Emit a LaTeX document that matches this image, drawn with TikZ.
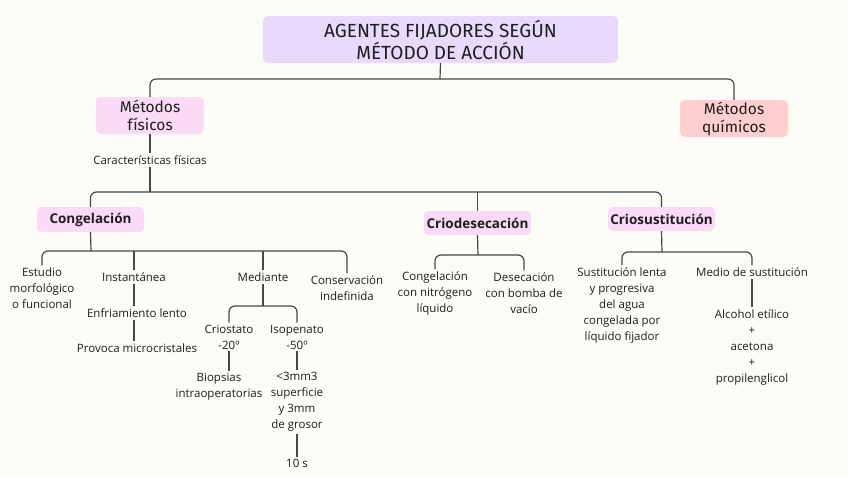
\documentclass[tikz,border=0pt]{standalone}
\usepackage{fontspec}
\setmainfont{Open Sans}
\newfontfamily\headfont{Fira Sans}
\usepackage{xcolor}
\usetikzlibrary{positioning,calc}
\definecolor{paper}{RGB}{253,251,246}
\definecolor{lavender}{RGB}{232,217,253}
\definecolor{rosa}{RGB}{251,218,245}
\definecolor{salmon}{RGB}{255,206,207}
\definecolor{ink}{RGB}{30,30,30}
\definecolor{wire}{RGB}{72,72,72}

\begin{document}
\begin{tikzpicture}[
    x=1pt, y=-1pt,
    head/.style={rounded corners=5pt, inner sep=0pt, align=center, text=ink},
    cat/.style={rounded corners=5pt, fill=rosa, minimum width=107pt, minimum height=25pt,
                inner sep=0pt, font=\fontsize{13.5}{16}\selectfont\bfseries, text=ink},
    txt/.style={align=center, inner sep=2pt, text=ink, font=\fontsize{11.5}{16}\selectfont},
    conn/.style={draw=wire, line width=1.2pt, rounded corners=6pt}
]
    \useasboundingbox[fill=paper] (0,0) rectangle (848,477);

    % top level
    \node[head, fill=lavender, minimum width=355pt, minimum height=47pt,
          font=\headfont\fontsize{19}{22}\selectfont] (titulo) at (440.5,39.5)
          {AGENTES FIJADORES SEGÚN\\MÉTODO DE ACCIÓN};
    \node[head, fill=rosa, minimum width=108pt, minimum height=37pt,
          font=\headfont\fontsize{15.5}{18}\selectfont] (fisicos) at (150,115.5) {Métodos\\físicos};
    \node[head, fill=salmon, minimum width=108pt, minimum height=37pt,
          font=\headfont\fontsize{15.5}{18}\selectfont] (quimicos) at (734,118.5) {Métodos\\químicos};
    \coordinate (b1) at (440,79);
    \draw[conn] (titulo.south) -- (b1);
    \draw[conn] (fisicos.north) |- (b1) -| (quimicos.north);

    \node[txt] (carac) at (150,160) {Características físicas};
    \draw[conn] (fisicos.south) -- (carac.north);

    % second level
    \node[cat] (congel) at (90.5,219.5) {Congelación};
    \node[cat, minimum height=24pt] (criodes) at (477.5,223) {Criodesecación};
    \node[cat, minimum height=24pt] (criosus) at (661.5,219) {Criosustitución};
    \coordinate (b2) at (150,192);
    \draw[conn] (carac.south) -- (b2);
    \draw[conn] (congel.north) |- (b2) -| (criosus.north);
    \draw[conn] (criodes.north) -- (criodes.north |- b2);

    % congelacion
    \node[txt] (estudio) at (42,288) {Estudio\\morfológico\\o funcional};
    \node[txt] (instant) at (134,277) {Instantánea};
    \node[txt] (mediante) at (263,277) {Mediante};
    \node[txt] (conserv) at (347,288) {Conservación\\indefinida};
    \coordinate (b3) at (91,251);
    \draw[conn] (congel.south) -- (b3);
    \draw[conn] (estudio.north) |- (b3) -| (conserv.north);
    \draw[conn] (instant.north) -- (instant.north |- b3);
    \draw[conn] (mediante.north) -- (mediante.north |- b3);

    \node[txt] (enfria) at (137,313) {Enfriamiento lento};
    \node[txt] (provoca) at (137,348) {Provoca microcristales};
    \draw[conn] (instant.south -| 134,0) -- (enfria.north -| 134,0);
    \draw[conn] (enfria.south -| 134,0) -- (provoca.north -| 134,0);

    \node[txt] (criost) at (229,337) {Criostato\\-20º};
    \node[txt] (isopen) at (297,337) {Isopenato\\-50º};
    \coordinate (b4) at (263,306);
    \draw[conn] (mediante.south) -- (b4);
    \draw[conn] (criost.north) |- (b4) -| (isopen.north);

    \node[txt] (biopsia) at (219,387) {Biopsias\\intraoperatorias};
    \node[txt] (grosor) at (297,402) {<3mm3\\superficie\\y 3mm\\de grosor};
    \node[txt] (diez) at (297,463) {10 s};
    \draw[conn] (criost.south) -- (criost.south |- biopsia.north);
    \draw[conn] (isopen.south) -- (grosor.north);
    \draw[conn] (grosor.south) -- (diez.north);

    % criodesecacion
    \node[txt] (nitro) at (435,293) {Congelación\\con nitrógeno\\líquido};
    \node[txt] (deseca) at (524,293) {Desecación\\con bomba de\\vacío};
    \coordinate (b5) at (478,255);
    \draw[conn] (criodes.south) -- (b5);
    \draw[conn] (nitro.north) |- (b5) -| (deseca.north);

    % criosustitucion
    \node[txt] (sustit) at (622,305) {Sustitución lenta\\y progresiva\\del agua\\congelada por\\líquido fijador};
    \node[txt] (medio) at (752,272) {Medio de sustitución};
    \coordinate (b6) at (662,252);
    \draw[conn] (criosus.south) -- (b6);
    \draw[conn] (sustit.north) |- (b6) -| (medio.north);

    \node[txt] (alcohol) at (752,347) {Alcohol etílico\\+\\acetona\\+\\propilenglicol};
    \draw[conn] (medio.south) -- (alcohol.north);
\end{tikzpicture}
\end{document}
